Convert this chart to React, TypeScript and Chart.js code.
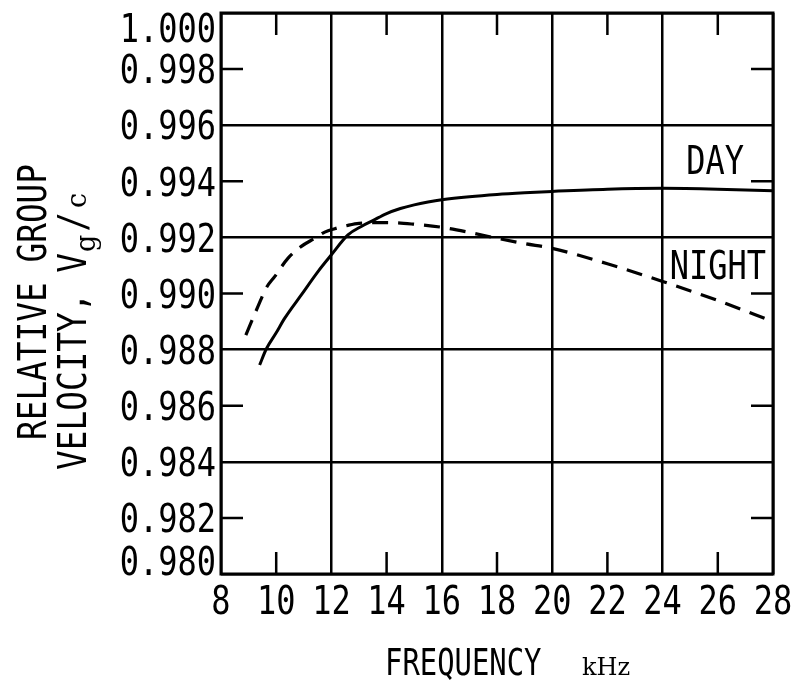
import { useEffect, useRef } from "react";
import { Chart, registerables } from "chart.js";

Chart.register(...registerables);

// Relative group velocity of the signal versus frequency, day and night paths
const dayFrequency = [9.4, 9.64, 10.0, 10.31, 10.91, 11.52, 12.0, 12.6, 13.1, 13.5, 14.0, 14.5, 15.0, 15.5, 16.0, 17.0, 18.0, 19.0, 20.0, 22.0, 24.0, 26.0, 28.0];
const dayVelocity = [0.98745, 0.98802, 0.9886, 0.98912, 0.98995, 0.99079, 0.99138, 0.99209, 0.9924, 0.9926, 0.99285, 0.99303, 0.99316, 0.99326, 0.99334, 0.99345, 0.99353, 0.99359, 0.99364, 0.99372, 0.99375, 0.99372, 0.99366];

const nightFrequency = [8.9, 9.34, 9.64, 9.95, 10.43, 10.91, 11.4, 11.76, 12.12, 12.6, 13.0, 14.0, 15.0, 16.0, 17.0, 18.0, 19.0, 20.0, 22.0, 24.0, 26.0, 28.0];
const nightVelocity = [0.98852, 0.98954, 0.9902, 0.99061, 0.99126, 0.99168, 0.99197, 0.99219, 0.99231, 0.99243, 0.9925, 0.99253, 0.99247, 0.99236, 0.99218, 0.99197, 0.99178, 0.99161, 0.99106, 0.99043, 0.98975, 0.989];

const xTickValues = [8, 10, 12, 14, 16, 18, 20, 22, 24, 26, 28];
const xTickLabels = ["8", "10", "12", "14", "16", "18", "20", "22", "24", "26", "28"];
const yTickValues = [0.98, 0.982, 0.984, 0.986, 0.988, 0.99, 0.992, 0.994, 0.996, 0.998, 1.0];
const yTickLabels = ["0.980", "0.982", "0.984", "0.986", "0.988", "0.990", "0.992", "0.994", "0.996", "0.998", "1.000"];

// Curve captions, anchored in data coordinates
const curveLabels = [
  { text: "DAY", x: 25.9, y: 0.99476 },
  { text: "NIGHT", x: 26.0, y: 0.99102 },
];

const W = 791;
const H = 693;
const MONO = "'DejaVu Sans Mono', 'Liberation Mono', monospace";
const SERIF = "'DejaVu Serif', 'Liberation Serif', serif";
const INK = "#000";
const LETTER = 39; // lettering size in px
const SQUEEZE = 0.82; // narrow drafting lettering
const CAP = 28.5; // cap height of the lettering

const isMajor = (v: number, step: number) => Math.round(v / step) % 2 === 0;

// Text drawn with horizontal compression, optionally rotated
function letter(
  ctx: CanvasRenderingContext2D,
  text: string,
  x: number,
  y: number,
  opts: { size?: number; family?: string; sx?: number; align?: CanvasTextAlign; rotate?: number } = {}
) {
  const { size = LETTER, family = MONO, sx = SQUEEZE, align = "left", rotate = 0 } = opts;
  ctx.save();
  ctx.translate(x, y);
  if (rotate) ctx.rotate(rotate);
  ctx.scale(sx, 1);
  ctx.font = `${size}px ${family}`;
  ctx.textAlign = align;
  ctx.textBaseline = "alphabetic";
  ctx.fillText(text, 0, 0);
  const w = ctx.measureText(text).width * sx;
  ctx.restore();
  return w;
}

const framePlugin = {
  id: "frameAndLabels",
  afterDatasetsDraw(chart: any) {
    const { ctx, chartArea, scales } = chart;
    const { left, right, top, bottom } = chartArea;
    const xs = scales.x;
    const ys = scales.y;
    const tickLen = 22;
    ctx.save();
    ctx.strokeStyle = INK;
    ctx.fillStyle = INK;
    ctx.lineWidth = 2.5;
    ctx.lineCap = "butt";

    // short inward ticks between the full grid lines
    ctx.beginPath();
    xs.ticks.forEach((t: any) => {
      if (Math.round(t.value) % 4 === 2) {
        const px = xs.getPixelForValue(t.value);
        ctx.moveTo(px, top);
        ctx.lineTo(px, top + tickLen);
        ctx.moveTo(px, bottom);
        ctx.lineTo(px, bottom - tickLen);
      }
    });
    ys.ticks.forEach((t: any) => {
      if (Math.round(t.value * 1000) % 4 === 2) {
        const py = ys.getPixelForValue(t.value);
        ctx.moveTo(left, py);
        ctx.lineTo(left + tickLen, py);
        ctx.moveTo(right, py);
        ctx.lineTo(right - tickLen, py);
      }
    });
    ctx.stroke();

    // outer frame
    ctx.lineWidth = 3;
    ctx.strokeRect(left, top, right - left, bottom - top);

    // tick labels, placed by the scales
    xs.ticks.forEach((t: any, i: number) => {
      letter(ctx, xTickLabels[i], xs.getPixelForValue(t.value), bottom + 39.5, { align: "center" });
    });
    const lastY = ys.ticks.length - 1;
    ys.ticks.forEach((t: any, i: number) => {
      let base = ys.getPixelForValue(t.value) + CAP / 2;
      if (i === lastY) base = top + CAP; // top label sits inside the frame height
      if (i === 0) base = bottom + 1; // bottom label rests on the frame base
      letter(ctx, yTickLabels[i], left - 5, base, { align: "right" });
    });

    // curve captions
    curveLabels.forEach((l) => {
      letter(ctx, l.text, xs.getPixelForValue(l.x), ys.getPixelForValue(l.y) + CAP / 2, { align: "center" });
    });

    // x-axis title
    letter(ctx, "FREQUENCY", 385, 675, { size: 37, sx: 0.78 });
    letter(ctx, "kHz", 582, 675, { size: 24, family: SERIF, sx: 1 });

    // y-axis title, two rotated lines
    const up = -Math.PI / 2;
    ctx.save();
    ctx.translate(46, 302);
    letter(ctx, "RELATIVE GROUP", 0, 0, { align: "center", rotate: up, sx: 0.84 });
    ctx.restore();

    ctx.save();
    ctx.translate(86, 470);
    ctx.rotate(up);
    let pos = letter(ctx, "VELOCITY, V", 0, 0, { sx: 0.84 }) + 1;
    pos += letter(ctx, "g", pos, 9, { size: 27, family: SERIF, sx: 1 }) + 3;
    pos += letter(ctx, "/", pos, 0, { sx: 0.84 }) + 4;
    letter(ctx, "c", pos, 0, { size: 27, family: SERIF, sx: 1 });
    ctx.restore();

    ctx.restore();
  },
};

export default function App() {
  const canvasRef = useRef<HTMLCanvasElement | null>(null);

  useEffect(() => {
    const canvas = canvasRef.current;
    if (!canvas) return;
    const chart = new Chart(canvas, {
      type: "line",
      data: {
        datasets: [
          {
            label: "DAY",
            data: dayFrequency.map((f, i) => ({ x: f, y: dayVelocity[i] })),
            borderColor: INK,
            borderWidth: 3,
            pointRadius: 0,
            cubicInterpolationMode: "monotone",
            fill: false,
          },
          {
            label: "NIGHT",
            data: nightFrequency.map((f, i) => ({ x: f, y: nightVelocity[i] })),
            borderColor: INK,
            borderWidth: 3.2,
            borderDash: [16, 10],
            pointRadius: 0,
            cubicInterpolationMode: "monotone",
            fill: false,
          },
        ],
      },
      options: {
        responsive: false,
        animation: false,
        devicePixelRatio: 1,
        layout: { padding: { top: 13, right: 18, left: 0, bottom: 0 } },
        plugins: {
          legend: { display: false },
          tooltip: { enabled: false },
        },
        scales: {
          x: {
            type: "linear",
            min: 8,
            max: 28,
            afterBuildTicks: (scale: any) => {
              scale.ticks = xTickValues.map((v) => ({ value: v }));
            },
            afterFit: (scale: any) => {
              scale.height = H - 574;
              scale.paddingLeft = 0;
              scale.paddingRight = 0;
            },
            ticks: { display: false },
            grid: {
              drawTicks: false,
              lineWidth: 2.5,
              color: (c: any) => (c.tick && isMajor(c.tick.value, 2) ? INK : "rgba(0,0,0,0)"),
            },
            border: { display: false },
          },
          y: {
            type: "linear",
            min: 0.98,
            max: 1.0,
            afterBuildTicks: (scale: any) => {
              scale.ticks = yTickValues.map((v) => ({ value: v }));
            },
            afterFit: (scale: any) => {
              scale.width = 221;
              scale.paddingTop = 0;
              scale.paddingBottom = 0;
            },
            ticks: { display: false },
            grid: {
              drawTicks: false,
              lineWidth: 2.5,
              color: (c: any) => (c.tick && isMajor(c.tick.value, 0.002) ? INK : "rgba(0,0,0,0)"),
            },
            border: { display: false },
          },
        },
      },
      plugins: [framePlugin],
    } as any);
    return () => chart.destroy();
  }, []);

  return (
    <div style={{ position: "fixed", left: 0, top: 0, width: W, height: H, background: "#fff" }}>
      <canvas ref={canvasRef} width={W} height={H} style={{ display: "block", width: W, height: H }} />
    </div>
  );
}
